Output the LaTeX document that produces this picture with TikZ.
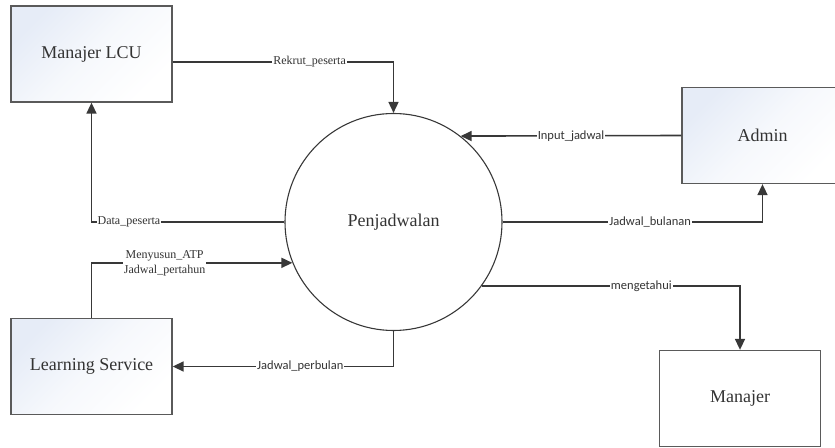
\documentclass[tikz,border=0pt]{standalone}
\usepackage{fontspec}
\setmainfont{LiberationSerif}[Extension=.ttf, UprightFont=*-Regular]
\newfontfamily\labelsans{Carlito}
\newfontfamily\boxserif{LiberationSerif}[Extension=.ttf, UprightFont=*-Regular]
\usetikzlibrary{arrows.meta}

\definecolor{linegray}{HTML}{383838}
\definecolor{boxedge}{HTML}{5A5A5A}
\definecolor{inkgray}{HTML}{333333}
\definecolor{boxtint}{HTML}{E6ECF7}

\tikzset{
  entity/.style={draw=boxedge, line width=1.3pt, minimum width=161pt,
    minimum height=96pt, inner sep=0pt, text=inkgray,
    font=\boxserif\fontsize{18}{20}\selectfont},
  tinted/.style={top color=boxtint, bottom color=white,
    middle color=boxtint!35!white, shading angle=45},
  process/.style={circle, draw=linegray, line width=1.1pt,
    minimum size=217pt, inner sep=0pt, text=inkgray,
    font=\boxserif\fontsize{18}{20}\selectfont},
  flow/.style={draw=linegray, line width=1.6pt,
    -{Triangle[length=11pt,width=10pt]}},
  seriflabel/.style={fill=white, inner sep=1pt, text=inkgray,
    font=\boxserif\fontsize{12}{15}\selectfont},
  sanslabel/.style={fill=white, inner sep=1pt, text=inkgray,
    font=\labelsans\fontsize{12.5}{14}\selectfont},
}

\begin{document}
\begin{tikzpicture}[x=1pt,y=1pt]
\useasboundingbox (0,0) rectangle (835,447);
\clip (0,0) rectangle (835,447);

% external entities and the process
\node[entity, tinted] (lcu)   at (91.5,393)   {Manajer LCU};
\node[entity, tinted] (admin) at (762.5,311.5) {Admin};
\node[entity, tinted] (ls)    at (91.5,80.5)  {Learning Service};
\node[entity, fill=white] (man) at (740,48.5) {Manajer};
\node[process] (pen) at (393.5,225) {Penjadwalan};

% data flows
\draw[flow] ([yshift=-8pt]lcu.east) -| (pen.north)
  node[seriflabel, pos=0.31] {Rekrut\_peserta};

\draw[flow] (admin.west) -- (pen.52.4)
  node[sanslabel, pos=0.5] {Input\_jadwal};

\draw[flow] (pen.east) -| (admin.south)
  node[sanslabel, pos=0.284] {Jadwal\_bulanan};

\draw[flow] (pen.west) -| (lcu.south)
  node[seriflabel, pos=0.403] {Data\_peserta};

\draw[flow] (ls.north) |- (pen.202.8)
  node[seriflabel, pos=0.682, align=center] {Menyusun\_ATP\\Jadwal\_pertahun};

\draw[flow] (pen.south) |- (ls.east)
  node[sanslabel, pos=0.711] {Jadwal\_perbulan};

\draw[flow] (pen.-36.1) -| (man.north)
  node[sanslabel, pos=0.309] {mengetahui};
\end{tikzpicture}
\end{document}
